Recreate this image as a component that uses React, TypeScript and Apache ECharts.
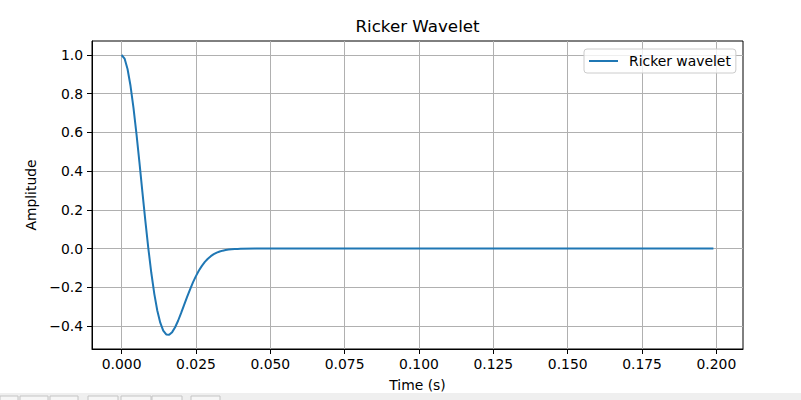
import React, { useEffect, useRef } from "react";
import * as echarts from "echarts";

// Sample times (s) and amplitudes
const times: number[] = [
  0.0, 0.001, 0.002, 0.003, 0.004, 0.005, 0.006, 0.007, 0.008, 0.009,
  0.010, 0.011, 0.012, 0.013, 0.014, 0.015, 0.016, 0.017, 0.018, 0.019,
  0.020, 0.021, 0.022, 0.023, 0.024, 0.025, 0.026, 0.027, 0.028, 0.029,
  0.030, 0.031, 0.032, 0.033, 0.034, 0.035, 0.036, 0.037, 0.038, 0.039,
  0.040, 0.045, 0.05, 0.1, 0.15, 0.199,
];
const amplitudes: number[] = [
  1.0, 0.9816, 0.9275, 0.841, 0.7272, 0.5928, 0.4451, 0.2922, 0.1418, 0.0004,
  -0.1261, -0.2336, -0.3195, -0.3826, -0.4233, -0.4432, -0.445, -0.4315, -0.4061, -0.3727,
  -0.3337, -0.2924, -0.2511, -0.2114, -0.1748, -0.1421, -0.1134, -0.0891, -0.0689, -0.0523,
  -0.0392, -0.0289, -0.021, -0.015, -0.0106, -0.0074, -0.0051, -0.0034, -0.0023, -0.0015,
  -0.001, -0.0001, 0.0, 0.0, 0.0, 0.0,
];
const xTicks: number[] = [0, 0.025, 0.05, 0.075, 0.1, 0.125, 0.15, 0.175, 0.2];
const yTicks: number[] = [-0.4, -0.2, 0.0, 0.2, 0.4, 0.6, 0.8, 1.0];

const seriesName = "Ricker wavelet";
const titleText = "Ricker Wavelet";
const xName = "Time (s)";
const yName = "Amplitude";

const FONT = "DejaVu Sans";

export default function App() {
  const ref = useRef<HTMLDivElement>(null);
  useEffect(() => {
    document.body.style.margin = "0";
    if (!ref.current) return;
    const chart = echarts.init(ref.current, undefined, { renderer: "svg" });
    const data = times.map((t, i) => [t, amplitudes[i]]);
    const toolbarButtons = [
      [0, 18], [20, 48], [50, 78], [88, 118], [121, 151], [152, 182], [191, 220],
    ];
    chart.setOption({
      animation: false,
      backgroundColor: "#ffffff",
      title: {
        text: titleText,
        left: 412.5,
        top: 12,
        textAlign: "center",
        textStyle: { fontFamily: FONT, fontSize: 16.7, fontWeight: "normal", color: "#000" },
      },
      grid: {
        left: 92,
        top: 41,
        right: 58,
        bottom: 51,
        show: true,
        borderColor: "#000",
        borderWidth: 1,
        backgroundColor: "transparent",
      },
      legend: {
        show: true,
        left: 584,
        top: 49,
        orient: "vertical",
        icon: "rect",
        itemWidth: 29,
        itemHeight: 2,
        padding: [5, 5, 5, 5],
        backgroundColor: "rgba(255,255,255,0.8)",
        borderColor: "#cccccc",
        borderWidth: 1,
        borderRadius: 3,
        textStyle: { fontFamily: FONT, fontSize: 13.9, color: "#000", padding: [0, 0, 0, 6] },
        data: [seriesName],
      },
      xAxis: {
        type: "value",
        min: -0.00995,
        max: 0.20895,
        name: xName,
        nameLocation: "middle",
        nameGap: 29,
        nameTextStyle: { fontFamily: FONT, fontSize: 13.9, color: "#000" },
        axisLine: { show: true, onZero: false, lineStyle: { color: "#000", width: 1 } },
        axisTick: { show: true, length: 5, lineStyle: { color: "#000", width: 1 }, customValues: xTicks },
        axisLabel: {
          customValues: xTicks,
          margin: 8,
          fontFamily: FONT,
          fontSize: 13.9,
          color: "#000",
          formatter: (v: number) => v.toFixed(3),
        },
        splitLine: { show: true, lineStyle: { color: "#b0b0b0", width: 1 } },
      },
      yAxis: {
        type: "value",
        min: -0.5186,
        max: 1.0723,
        name: yName,
        nameLocation: "middle",
        nameGap: 50,
        nameRotate: 90,
        nameTextStyle: { fontFamily: FONT, fontSize: 13.9, color: "#000" },
        axisLine: { show: true, onZero: false, lineStyle: { color: "#000", width: 1 } },
        axisTick: { show: true, length: 5, lineStyle: { color: "#000", width: 1 }, customValues: yTicks },
        axisLabel: {
          customValues: yTicks,
          margin: 9,
          fontFamily: FONT,
          fontSize: 13.9,
          color: "#000",
          formatter: (v: number) => (v < -1e-9 ? "\u2212" : "") + Math.abs(v).toFixed(1),
        },
        splitLine: { show: true, lineStyle: { color: "#b0b0b0", width: 1 } },
      },
      series: [
        {
          name: seriesName,
          type: "line",
          data,
          showSymbol: false,
          symbol: "none",
          smooth: false,
          lineStyle: { color: "#1f77b4", width: 2 },
          itemStyle: { color: "#1f77b4" },
        },
      ],
      graphic: [
        {
          type: "rect",
          shape: { x: 0, y: 393, width: 801, height: 7 },
          style: { fill: "#efefef" },
          silent: true,
        },
        ...toolbarButtons.map(([a, b]) => ({
          type: "rect",
          shape: { x: a, y: 396, width: b - a, height: 10 },
          style: { fill: "#f6f6f6", stroke: "#c4c4c4", lineWidth: 1 },
          silent: true,
        })),
      ],
    });
    return () => chart.dispose();
  }, []);
  return <div ref={ref} style={{ width: 801, height: 400 }} />;
}
